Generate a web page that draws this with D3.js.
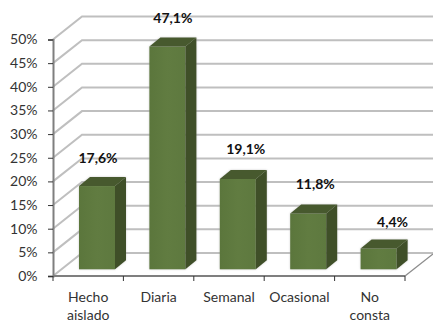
<!DOCTYPE html>
<html><head><meta charset="utf-8">
<script src="https://cdnjs.cloudflare.com/ajax/libs/d3/7.8.5/d3.min.js"></script>
<style>html,body{margin:0;padding:0;background:#fff}svg{display:block}text{font-family:Lato,"Open Sans",sans-serif}</style>
</head><body><svg id="c" width="433" height="321"></svg>
<script>
const categories = [["Hecho","aislado"],["Diaria"],["Semanal"],["Ocasional"],["No","consta"]];
const values = [17.6,47.1,19.1,11.8,4.4];
const valueLabels = ["17,6%","47,1%","19,1%","11,8%","4,4%"];
const yTicks = [0,5,10,15,20,25,30,35,40,45,50];
const labelShiftX = [1,5.5,8,7,14];
const labelShiftY = [0,0,-1,-.5,2.5];

const svg = d3.select("#c");
const x = d3.scaleBand().domain(d3.range(categories.length)).range([53,405]).paddingInner(0).paddingOuter(0);
const y = d3.scaleLinear().domain([0,50]).range([276,39.5]);
const h = d3.scaleLinear().domain([0,50]).range([0,236.5]);
const wall = {dx:29,dy:-23};
const defs = svg.append("defs");
const sh = defs.append("filter").attr("id","sh").attr("x","-10%").attr("y","-10%").attr("width","120%").attr("height","120%");
sh.append("feGaussianBlur").attr("stdDeviation",0.8);
const g = defs.append("linearGradient").attr("id","front").attr("x1",0).attr("x2",1).attr("y1",0).attr("y2",0);
g.append("stop").attr("offset",0).attr("stop-color","#5b763c");
g.append("stop").attr("offset",.5).attr("stop-color","#617c41");
g.append("stop").attr("offset",1).attr("stop-color","#5e793f");

// walls
const grid = svg.append("g").attr("fill","none").attr("stroke","#bfbfbf").attr("stroke-width",2);
grid.selectAll("path.g").data(yTicks).join("path").attr("class","g")
  .attr("d",d=>`M${x.range()[0]},${y(d)}L${x.range()[0]+wall.dx},${y(d)+wall.dy}L433,${y(d)+wall.dy}`);
svg.append("path").attr("fill","none").attr("stroke","#8c8c8c").attr("stroke-width",1.3)
  .attr("d",`M${x.range()[1]},${y(0)}L433,${y(0)-22}`);

// bars
const barW = 36, inset=(x.bandwidth()-barW)/2 + 8.8, base = 6.7;
const depth = {dx:11,dy:-9};
const bars = svg.append("g").selectAll("g").data(values).join("g");
const bx = (i)=>x(i)+inset;
bars.append("path").attr("fill","#a0a0a0").attr("opacity",.5).attr("filter","url(#sh)")
  .attr("d",(d,i)=>{const a=bx(i),b=a+barW,t=y(0)-base-h(d),m=y(0)-base;return `M${a},${m}L${a},${t}L${a+depth.dx},${t+depth.dy}L${b+depth.dx},${t+depth.dy}L${b+depth.dx},${m+depth.dy}L${b},${m}Z`;});
bars.append("rect").attr("x",(d,i)=>bx(i)).attr("y",d=>y(0)-base-h(d)).attr("width",barW).attr("height",d=>h(d)).attr("fill","url(#front)");
bars.append("path").attr("fill","#3f4f28")
  .attr("d",(d,i)=>{const b=bx(i)+barW,t=y(0)-base-h(d),m=y(0)-base;return `M${b},${t}L${b+depth.dx},${t+depth.dy}L${b+depth.dx},${m+depth.dy}L${b},${m}Z`;});
bars.append("path").attr("fill","#47592e")
  .attr("d",(d,i)=>{const a=bx(i),b=a+barW,t=y(0)-base-h(d);return `M${a},${t}L${a+depth.dx},${t+depth.dy}L${b+depth.dx},${t+depth.dy}L${b},${t}Z`;});

// axes
const axY = d3.axisLeft(y).tickValues(yTicks).tickFormat(d=>d+"%").tickSize(5).tickPadding(10.5);
const ga = svg.append("g").attr("transform",`translate(${x.range()[0]},0)`).call(axY);
ga.select(".domain").attr("stroke","#7f7f7f").attr("stroke-width",2);
ga.selectAll(".tick line").attr("stroke","#333");
ga.selectAll("text").attr("font-size",14).attr("fill","#333").style("font-family","Lato");
const xEdges = d3.range(categories.length+1).map(i=>i<categories.length?x(i):x.range()[1]);
svg.append("line").attr("x1",x.range()[0]).attr("x2",x.range()[1]).attr("y1",y(0)).attr("y2",y(0)).attr("stroke","#7f7f7f").attr("stroke-width",2);
svg.append("g").selectAll("line").data(xEdges).join("line").attr("x1",d=>d).attr("x2",d=>d).attr("y1",y(0)).attr("y2",y(0)+5).attr("stroke","#333");
svg.append("g").selectAll("text").data(categories).join("text")
  .attr("text-anchor","middle").attr("font-size",14).attr("fill","#333")
  .each(function(d,i){d3.select(this).selectAll("tspan").data(d).join("tspan")
    .attr("x",x(i)+x.bandwidth()/2).attr("y",(t,j)=>302+j*17.5).text(t=>t);});

// labels
svg.append("g").selectAll("text").data(values).join("text")
  .attr("text-anchor","middle").attr("font-size",14).attr("font-weight",700).attr("fill","#111")
  .attr("x",(d,i)=>bx(i)+barW/2+labelShiftX[i])
  .attr("y",(d,i)=>y(0)-base-h(d)-23.5+labelShiftY[i])
  .text((d,i)=>valueLabels[i]);
</script></body></html>
